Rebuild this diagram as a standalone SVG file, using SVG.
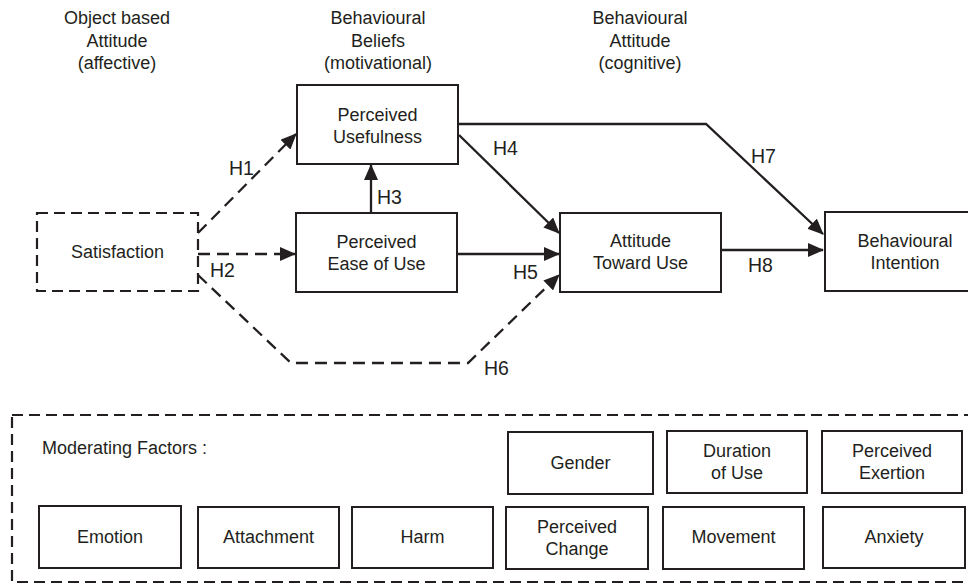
<svg xmlns="http://www.w3.org/2000/svg" width="968" height="584" viewBox="0 0 968 584">
<style>
text{font-family:"Liberation Sans",Arial,sans-serif;fill:#231f20;font-size:18px}
.n{text-anchor:middle;font-size:18px}
.h{text-anchor:middle;font-size:18px}
.lbl{font-size:19.5px}
.box{fill:#fff;stroke:#231f20;stroke-width:2}
.dbox{fill:none;stroke:#231f20;stroke-width:2.2;stroke-dasharray:11 6}
.c{fill:none;stroke:#231f20;stroke-width:2.3}
.d{stroke-dasharray:12 7}
</style>
<defs>
<marker id="ah" markerUnits="userSpaceOnUse" markerWidth="16" markerHeight="14" viewBox="0 0 16 14" refX="15" refY="7" orient="auto">
<path d="M0,0 L16,7 L0,14 z" fill="#231f20"/>
</marker>
</defs>
<g id="headers">
<text class="h" x="117" y="24">Object based</text>
<text class="h" x="117" y="47">Attitude</text>
<text class="h" x="117" y="69">(affective)</text>
<text class="h" x="378" y="24">Behavioural</text>
<text class="h" x="378" y="47">Beliefs</text>
<text class="h" x="378" y="69">(motivational)</text>
<text class="h" x="640" y="24">Behavioural</text>
<text class="h" x="640" y="47">Attitude</text>
<text class="h" x="640" y="69">(cognitive)</text>
</g>
<g id="connectors">
<path class="c d" d="M198,233 L296,134" marker-end="url(#ah)"/>
<path class="c d" d="M198,254 L295,254" marker-end="url(#ah)"/>
<path class="c" d="M371,213 L371,165" marker-end="url(#ah)"/>
<path class="c" d="M459,135 L559,233" marker-end="url(#ah)"/>
<path class="c" d="M459,124 L706,124 L823,234" marker-end="url(#ah)"/>
<path class="c" d="M457,254 L559,254" marker-end="url(#ah)"/>
<path class="c" d="M721,250 L823,250" marker-end="url(#ah)"/>
<path class="c d" d="M198,275 L291,363 L468,363 L559,275" marker-end="url(#ah)"/>
<text class="lbl" x="229" y="175">H1</text>
<text class="lbl" x="210" y="277">H2</text>
<text class="lbl" x="377" y="204">H3</text>
<text class="lbl" x="493" y="155">H4</text>
<text class="lbl" x="513" y="279">H5</text>
<text class="lbl" x="484" y="375">H6</text>
<text class="lbl" x="751" y="163">H7</text>
<text class="lbl" x="748" y="272">H8</text>
</g>
<g id="satisfaction">
<rect class="dbox" x="37" y="213" width="161" height="78"/>
<text class="n" x="117.5" y="258">Satisfaction</text>
</g>
<g id="perceived-usefulness">
<rect class="box" x="297" y="85" width="161" height="79"/>
<text class="n" x="377.5" y="121">Perceived</text>
<text class="n" x="377.5" y="143">Usefulness</text>
</g>
<g id="perceived-ease-of-use">
<rect class="box" x="296" y="213" width="161" height="79"/>
<text class="n" x="376.5" y="248">Perceived</text>
<text class="n" x="376.5" y="270">Ease of Use</text>
</g>
<g id="attitude-toward-use">
<rect class="box" x="560" y="213" width="161" height="79"/>
<text class="n" x="640.5" y="247">Attitude</text>
<text class="n" x="640.5" y="269">Toward Use</text>
</g>
<g id="behavioural-intention">
<rect class="box" x="825" y="212" width="161" height="79"/>
<text class="n" x="905" y="247">Behavioural</text>
<text class="n" x="905" y="269">Intention</text>
</g>
<g id="moderating-factors">
<rect class="dbox" x="12" y="415" width="970" height="167"/>
<text x="42" y="454">Moderating Factors :</text>
</g>
<g id="gender">
<rect class="box" x="508" y="432" width="145" height="62"/>
<text class="n" x="580.5" y="469">Gender</text>
</g>
<g id="duration-of-use">
<rect class="box" x="667" y="431" width="140" height="62"/>
<text class="n" x="737" y="457">Duration</text>
<text class="n" x="737" y="479">of Use</text>
</g>
<g id="perceived-exertion">
<rect class="box" x="822" y="431" width="140" height="62"/>
<text class="n" x="892" y="457">Perceived</text>
<text class="n" x="892" y="479">Exertion</text>
</g>
<g id="emotion">
<rect class="box" x="39" y="506" width="142" height="62"/>
<text class="n" x="110" y="543">Emotion</text>
</g>
<g id="attachment">
<rect class="box" x="198" y="507" width="141" height="61"/>
<text class="n" x="268.5" y="543">Attachment</text>
</g>
<g id="harm">
<rect class="box" x="352" y="507" width="141" height="61"/>
<text class="n" x="422.5" y="543">Harm</text>
</g>
<g id="perceived-change">
<rect class="box" x="506" y="507" width="142" height="62"/>
<text class="n" x="577" y="533">Perceived</text>
<text class="n" x="577" y="555">Change</text>
</g>
<g id="movement">
<rect class="box" x="663" y="507" width="141" height="62"/>
<text class="n" x="733.5" y="543">Movement</text>
</g>
<g id="anxiety">
<rect class="box" x="823" y="507" width="142" height="61"/>
<text class="n" x="894" y="543">Anxiety</text>
</g>
</svg>
